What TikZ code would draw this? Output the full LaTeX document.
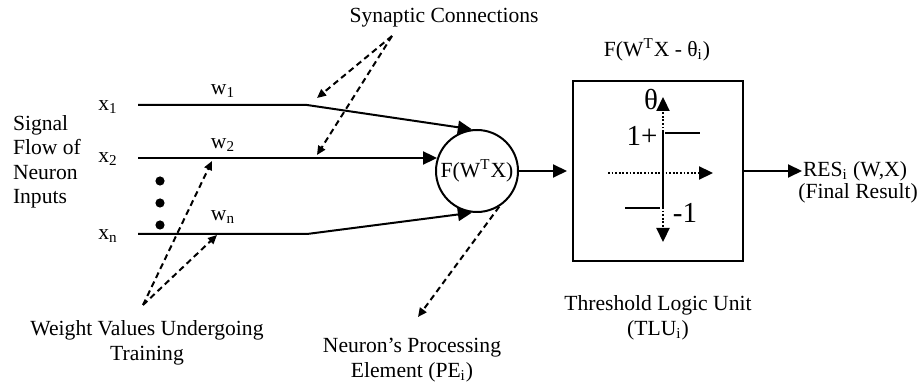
\documentclass[tikz,border=0pt]{standalone}
\usepackage{fontspec}
\setmainfont{Liberation Serif}
\usetikzlibrary{arrows.meta}

\begin{document}
\begin{tikzpicture}[x=0.5pt, y=-0.5pt, line width=1pt,
    >={Triangle[length=7pt,width=6.5pt]},
    lbl/.style={inner sep=0pt, font=\fontsize{10.8}{12.2}\selectfont},
    big/.style={inner sep=0pt, font=\fontsize{14.5}{16}\selectfont},
    hint/.style={dash pattern=on 3pt off 2pt, -{Triangle[length=4.5pt,width=4pt]}},
    axisline/.style={line width=1.1pt, dash pattern=on 0.9pt off 0.9pt, -{Triangle[length=7pt,width=6.5pt]}}]
  \useasboundingbox (0,0) rectangle (921,389);

  % --- 入力 x_1 ... x_n ---
  \node[lbl, anchor=west, align=left] (sig) at (12,162) {Signal\\Flow of\\Neuron\\Inputs};
  \node[lbl] (x1) at (108,107) {x\textsubscript{1}};
  \node[lbl] (x2) at (108,159) {x\textsubscript{2}};
  \node[lbl] (xn) at (108,236) {x\textsubscript{n}};
  \node[lbl] (w1) at (223,91) {w\textsubscript{1}};
  \node[lbl] (w2) at (223,145) {w\textsubscript{2}};
  \node[lbl] (wn) at (223,217) {w\textsubscript{n}};
  \foreach \y in {181,203,225}
    \fill (160,\y) circle[radius=2.3pt];

  % --- PE ---
  \node[draw, circle, minimum size=41pt, lbl] (pe) at (477,171) {F(W\textsuperscript{T}X)};
  \coordinate (a1) at (138,105);
  \coordinate (b1) at (307,105);
  \coordinate (a2) at (138,158);
  \coordinate (an) at (138,234);
  \coordinate (bn) at (307,234);
  \draw[->] (a1) -- (b1) -- (pe.97);
  \draw[->] (a2) -- (a2 -| pe.162);
  \draw[->] (an) -- (bn) -- (pe.-97);

  % --- TLU ---
  \node[draw, minimum width=85pt, minimum height=90pt] (tlu) at (658,171) {};
  \node[lbl] (fth) at (657,50) {F(W\textsuperscript{T}X - θ\textsubscript{i})};
  \draw[->, shorten >=2.5pt] (pe) -- (tlu);
  % 閾値関数
  \draw[axisline] (663,132) -- (663,97);
  \draw[axisline] (663,207) -- (663,242);
  \draw[axisline] (608,173) -- (713,173);
  \draw (663,132) -- (663,207);
  \draw (665,133) -- (700,133);
  \draw (625,208) -- (660,208);
  \node[big, anchor=east] (th) at (659,100) {θ};
  \node[big] (one) at (642,136) {1+};
  \node[big] (mone) at (685,213) {-1};

  % --- 出力 ---
  \node[lbl] (res) at (855,171) {RES\textsubscript{i} (W,X)};
  \node[lbl] (fin) at (858,193) {(Final Result)};
  \draw[->] (tlu.east) -- (res.west);

  % --- 説明 ---
  \node[lbl] (syn) at (444,18) {Synaptic Connections};
  \node[lbl, align=center] (wt) at (147,343) {Weight Values Undergoing\\Training};
  \node[lbl, align=center] (pel) at (412,360) {Neuron’s Processing\\Element (PE\textsubscript{i})};
  \node[lbl, align=center] (tll) at (658,318) {Threshold Logic Unit\\(TLU\textsubscript{i})};
  \coordinate (sp) at (392,36);
  \coordinate (s1) at (317,98);
  \coordinate (s2) at (317,155);
  \draw[hint] (sp) -- (s1);
  \draw[hint] (sp) -- (s2);
  \coordinate (wp) at (143,305);
  \coordinate (t2) at (212,161);
  \coordinate (tn) at (217,235);
  \draw[hint] (wp) -- (t2);
  \draw[hint] (wp) -- (tn);
  \coordinate (pt) at (418,317);
  \draw[hint] (pe.-58) -- (pt);
\end{tikzpicture}
\end{document}
